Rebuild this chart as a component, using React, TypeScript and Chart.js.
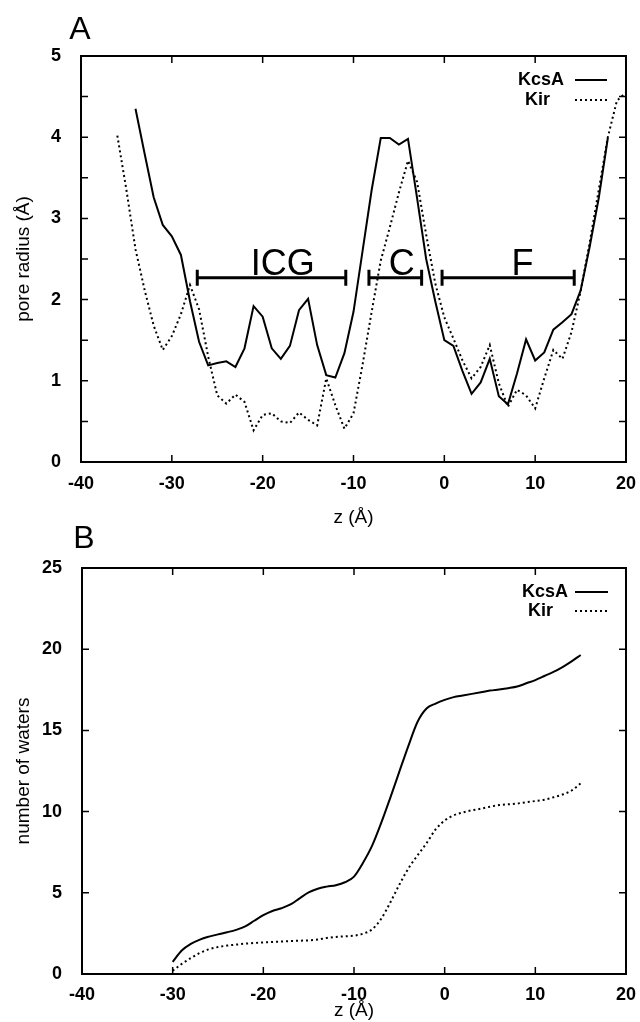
import React, { useEffect, useRef } from 'react';
import { Chart, registerables } from 'chart.js';

Chart.register(...registerables);

const FONT = '"Liberation Sans", Arial, Helvetica, sans-serif';

// ---------- Panel A: pore radius ----------
const zKcsA_A = [-34, -33, -32, -31, -30, -29, -28, -27, -26, -25, -24, -23, -22, -21, -20, -19, -18, -17, -16, -15, -14, -13, -12, -11, -10, -9, -8, -7, -6, -5, -4, -3, -2, -1, 0, 1, 2, 3, 4, 5, 6, 7, 8, 9, 10, 11, 12, 13, 14, 15, 16, 17, 18];
const radiusKcsA = [4.35, 3.80, 3.26, 2.92, 2.78, 2.55, 1.98, 1.48, 1.19, 1.22, 1.24, 1.17, 1.40, 1.92, 1.79, 1.40, 1.27, 1.43, 1.87, 2.01, 1.44, 1.07, 1.04, 1.34, 1.85, 2.60, 3.35, 3.99, 3.99, 3.91, 3.98, 3.25, 2.50, 1.98, 1.50, 1.43, 1.12, 0.84, 0.98, 1.27, 0.81, 0.71, 1.09, 1.51, 1.25, 1.35, 1.63, 1.72, 1.82, 2.11, 2.65, 3.25, 3.99];

const zKir_A = [-36, -35, -34, -33, -32, -31, -30, -29, -28, -27, -26, -25, -24, -23, -22, -21, -20, -19, -18, -17, -16, -15, -14, -13, -12, -11, -10, -9, -8, -7, -6, -5, -4, -3, -2, -1, 0, 1, 2, 3, 4, 5, 6, 7, 8, 9, 10, 11, 12, 13, 14, 15, 16, 17, 18, 19, 20];
const radiusKir = [4.02, 3.35, 2.62, 2.12, 1.68, 1.38, 1.55, 1.82, 2.18, 1.88, 1.30, 0.82, 0.72, 0.83, 0.74, 0.39, 0.58, 0.60, 0.50, 0.48, 0.61, 0.52, 0.45, 1.03, 0.70, 0.41, 0.60, 1.20, 1.85, 2.48, 2.89, 3.32, 3.71, 3.45, 2.80, 2.20, 1.78, 1.52, 1.25, 1.03, 1.17, 1.44, 0.97, 0.68, 0.89, 0.82, 0.66, 1.03, 1.38, 1.27, 1.60, 2.10, 2.70, 3.35, 4.00, 4.45, 4.55];

// region bars in panel A
const regionLabels = ['ICG', 'C', 'F'];
const regionStart = [-27.2, -8.3, -0.25];
const regionEnd = [-10.85, -2.5, 14.3];
const regionLabelZ = [-17.8, -4.7, 8.6];
const regionRadius = 2.27;

// ---------- Panel B: number of waters ----------
const zB = [-30, -29, -28, -27, -26, -25, -24, -23, -22, -21, -20, -19, -18, -17, -16, -15, -14, -13, -12, -11, -10, -9, -8, -7, -6, -5, -4, -3, -2, -1, 0, 1, 2, 3, 4, 5, 6, 7, 8, 9, 10, 11, 12, 13, 14, 15];
const watersKcsA = [0.75, 1.45, 1.85, 2.12, 2.30, 2.44, 2.57, 2.72, 2.93, 3.28, 3.62, 3.88, 4.05, 4.28, 4.66, 5.02, 5.25, 5.38, 5.47, 5.65, 6.00, 6.85, 7.90, 9.30, 10.85, 12.46, 14.05, 15.52, 16.35, 16.65, 16.88, 17.05, 17.15, 17.25, 17.35, 17.45, 17.52, 17.60, 17.70, 17.90, 18.10, 18.35, 18.60, 18.90, 19.25, 19.64];
const watersKir = [0.20, 0.62, 0.98, 1.30, 1.52, 1.66, 1.75, 1.81, 1.87, 1.91, 1.94, 1.97, 2.00, 2.03, 2.05, 2.07, 2.12, 2.22, 2.28, 2.32, 2.36, 2.48, 2.75, 3.40, 4.40, 5.50, 6.50, 7.30, 8.05, 8.90, 9.45, 9.77, 9.95, 10.08, 10.18, 10.30, 10.40, 10.45, 10.50, 10.58, 10.65, 10.73, 10.88, 11.05, 11.30, 11.74];

const seriesNames = ['KcsA', 'Kir'];

const toXY = (xs: number[], ys: number[]) => xs.map((x, i) => ({ x, y: ys[i] }));

type LegendRow = { label: string; dash: number[]; textX: number; y: number; x0: number; x1: number };
type FrameCfg = {
  letter: string;
  letterX: number;
  letterY: number;
  legend: LegendRow[];
  bars: boolean;
};

function makeFramePlugin(cfg: FrameCfg) {
  return {
    id: 'frame' + cfg.letter,
    afterDraw(chart: any) {
      const { ctx, chartArea: ca, scales } = chart;
      const xs = scales.x;
      const ys = scales.y;
      ctx.save();
      ctx.strokeStyle = '#000';
      ctx.fillStyle = '#000';
      // inward ticks on all four sides
      const tl = 7;
      ctx.lineWidth = 1.5;
      ctx.beginPath();
      xs.ticks.forEach((t: any) => {
        const p = xs.getPixelForValue(t.value);
        if (p <= ca.left + 1 || p >= ca.right - 1) return;
        ctx.moveTo(p, ca.bottom);
        ctx.lineTo(p, ca.bottom - tl);
        ctx.moveTo(p, ca.top);
        ctx.lineTo(p, ca.top + tl);
      });
      ys.ticks.forEach((t: any) => {
        const p = ys.getPixelForValue(t.value);
        if (p <= ca.top + 1 || p >= ca.bottom - 1) return;
        ctx.moveTo(ca.left, p);
        ctx.lineTo(ca.left + tl, p);
        ctx.moveTo(ca.right, p);
        ctx.lineTo(ca.right - tl, p);
      });
      ctx.stroke();
      // frame
      ctx.lineWidth = 2;
      ctx.strokeRect(ca.left, ca.top, ca.right - ca.left, ca.bottom - ca.top);
      // panel letter
      ctx.font = `32px ${FONT}`;
      ctx.textAlign = 'center';
      ctx.textBaseline = 'alphabetic';
      ctx.fillText(cfg.letter, cfg.letterX, cfg.letterY);
      // legend
      ctx.font = `bold 18px ${FONT}`;
      ctx.textAlign = 'left';
      ctx.textBaseline = 'middle';
      cfg.legend.forEach((row) => {
        ctx.fillText(row.label, row.textX, row.y);
        ctx.setLineDash(row.dash);
        ctx.lineWidth = 2;
        ctx.beginPath();
        ctx.moveTo(row.x0, row.y);
        ctx.lineTo(row.x1, row.y);
        ctx.stroke();
        ctx.setLineDash([]);
      });
      // region bars
      if (cfg.bars) {
        const py = ys.getPixelForValue(regionRadius);
        regionLabels.forEach((lab, i) => {
          const a = xs.getPixelForValue(regionStart[i]);
          const b = xs.getPixelForValue(regionEnd[i]);
          ctx.lineWidth = 3;
          ctx.beginPath();
          ctx.moveTo(a, py);
          ctx.lineTo(b, py);
          ctx.moveTo(a, py - 8);
          ctx.lineTo(a, py + 8);
          ctx.moveTo(b, py - 8);
          ctx.lineTo(b, py + 8);
          ctx.stroke();
          ctx.font = `36px ${FONT}`;
          ctx.textAlign = 'center';
          ctx.textBaseline = 'alphabetic';
          ctx.fillText(lab, xs.getPixelForValue(regionLabelZ[i]), py - 3);
        });
      }
      ctx.restore();
    },
  };
}

function baseOptions(p: {
  padTop: number;
  xHeight: number;
  yWidth: number;
  yMax: number;
  yStep: number;
  yTitle: string;
  xTickPad: number;
  xTitlePadBottom: number;
  intOnly: boolean;
}) {
  const tickFont = { family: FONT, size: 18, weight: 'bold' as const };
  const titleFont = { family: FONT, size: 19 };
  return {
    responsive: false,
    animation: false as const,
    events: [] as any[],
    layout: { padding: { top: p.padTop, right: 14, left: 0, bottom: 0 } },
    plugins: { legend: { display: false }, tooltip: { enabled: false }, title: { display: false } },
    scales: {
      x: {
        type: 'linear' as const,
        min: -40,
        max: 20,
        grid: { display: false },
        border: { display: false },
        ticks: { stepSize: 10, color: '#000', font: tickFont, padding: p.xTickPad, autoSkip: false, maxRotation: 0 },
        title: { display: true, text: 'z (Å)', color: '#000', font: titleFont, padding: { top: 0, bottom: p.xTitlePadBottom } },
        afterFit: (s: any) => {
          s.height = p.xHeight;
        },
      },
      y: {
        type: 'linear' as const,
        min: 0,
        max: p.yMax,
        grid: { display: false },
        border: { display: false },
        ticks: {
          stepSize: p.yStep,
          color: '#000',
          font: tickFont,
          padding: 12,
          autoSkip: false,
          callback: (v: any) => (p.intOnly ? (Number.isInteger(v) ? String(v) : '') : String(v)),
        },
        title: { display: true, text: p.yTitle, color: '#000', font: titleFont, padding: { top: 12, bottom: 0 } },
        afterFit: (s: any) => {
          s.width = p.yWidth;
        },
      },
    },
  };
}

export default function App() {
  const refA = useRef<HTMLCanvasElement | null>(null);
  const refB = useRef<HTMLCanvasElement | null>(null);

  useEffect(() => {
    if (!refA.current || !refB.current) return;

    const chartA = new Chart(refA.current, {
      type: 'line',
      data: {
        datasets: [
          {
            label: seriesNames[0],
            data: toXY(zKcsA_A, radiusKcsA),
            borderColor: '#000',
            borderWidth: 2,
            pointRadius: 0,
            tension: 0,
            fill: false,
          },
          {
            label: seriesNames[1],
            data: toXY(zKir_A, radiusKir),
            borderColor: '#000',
            borderWidth: 2,
            borderDash: [2, 3],
            pointRadius: 0,
            tension: 0,
            fill: false,
          },
        ],
      },
      options: baseOptions({
        padTop: 56,
        xHeight: 73,
        yWidth: 81,
        yMax: 5,
        yStep: 0.5,
        yTitle: 'pore radius (Å)',
        xTickPad: 3,
        xTitlePadBottom: 6,
        intOnly: true,
      }) as any,
      plugins: [
        makeFramePlugin({
          letter: 'A',
          letterX: 80,
          letterY: 39,
          bars: true,
          legend: [
            { label: seriesNames[0], dash: [], textX: 518, y: 80, x0: 575, x1: 607 },
            { label: seriesNames[1], dash: [2, 3], textX: 525, y: 100, x0: 575, x1: 607 },
          ],
        }),
      ],
    });

    const chartB = new Chart(refB.current, {
      type: 'line',
      data: {
        datasets: [
          {
            label: seriesNames[0],
            data: toXY(zB, watersKcsA),
            borderColor: '#000',
            borderWidth: 2,
            pointRadius: 0,
            cubicInterpolationMode: 'monotone',
            fill: false,
          },
          {
            label: seriesNames[1],
            data: toXY(zB, watersKir),
            borderColor: '#000',
            borderWidth: 2,
            borderDash: [2, 3],
            pointRadius: 0,
            cubicInterpolationMode: 'monotone',
            fill: false,
          },
        ],
      },
      options: baseOptions({
        padTop: 63,
        xHeight: 48,
        yWidth: 82,
        yMax: 25,
        yStep: 5,
        yTitle: 'number of waters',
        xTickPad: 2,
        xTitlePadBottom: 0,
        intOnly: false,
      }) as any,
      plugins: [
        makeFramePlugin({
          letter: 'B',
          letterX: 84,
          letterY: 43,
          bars: false,
          legend: [
            { label: seriesNames[0], dash: [], textX: 522, y: 87, x0: 575, x1: 608 },
            { label: seriesNames[1], dash: [2, 3], textX: 528, y: 106, x0: 575, x1: 608 },
          ],
        }),
      ],
    });

    return () => {
      chartA.destroy();
      chartB.destroy();
    };
  }, []);

  return (
    <div style={{ position: 'absolute', left: 0, top: 0, width: 640, height: 1022, background: '#fff', overflow: 'hidden' }}>
      <canvas ref={refA} width={640} height={535} style={{ position: 'absolute', left: 0, top: 0, width: 640, height: 535 }} />
      <canvas ref={refB} width={640} height={517} style={{ position: 'absolute', left: 0, top: 505, width: 640, height: 517 }} />
    </div>
  );
}
